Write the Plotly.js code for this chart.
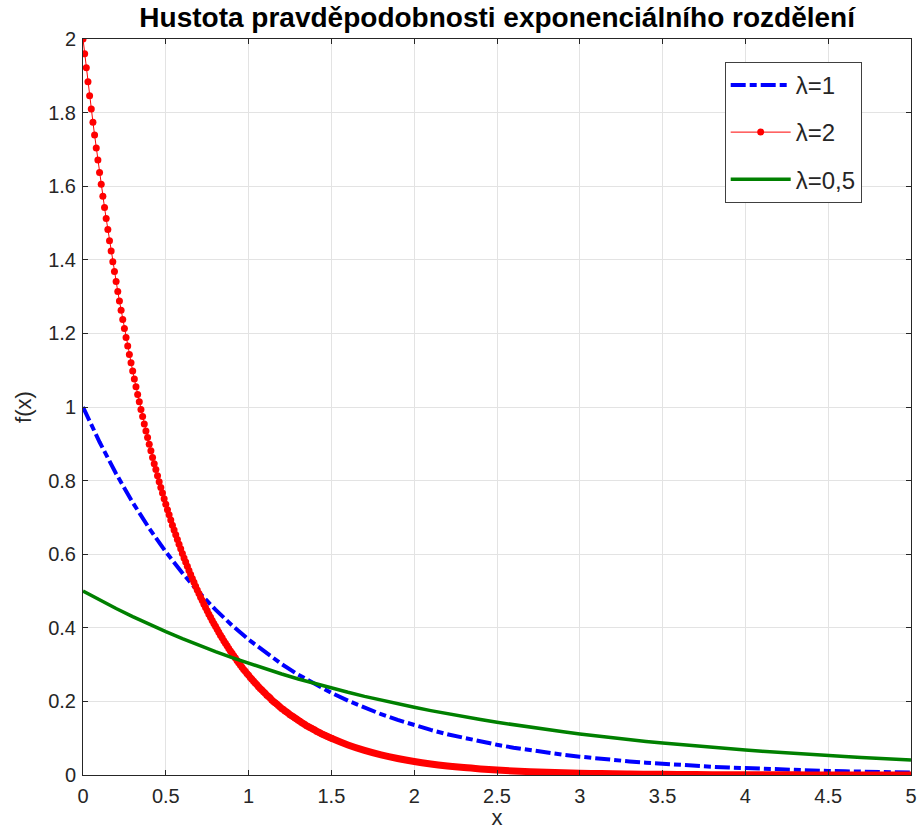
<!DOCTYPE html>
<html>
<head>
<meta charset="utf-8">
<script src="https://cdn.plot.ly/plotly-3.0.1.min.js"></script>
<style>html,body{margin:0;padding:0;background:#fff;}#chart{width:919px;height:830px;}</style>
</head>
<body>
<div id="chart"></div>
<script>
// lambda = 2, dense sampled part (markers)
const xRed = [0,0.01,0.02,0.03,0.04,0.05,0.06,0.07,0.08,0.09,0.1,0.11,0.12,0.13,0.14,0.15,0.16,0.17,0.18,0.19,0.2,0.21,0.22,0.23,0.24,0.25,0.26,0.27,0.28,0.29,0.3,0.31,0.32,0.33,0.34,0.35,0.36,0.37,0.38,0.39,0.4,0.41,0.42,0.43,0.44,0.45,0.46,0.47,0.48,0.49,0.5,0.51,0.52,0.53,0.54,0.55,0.56,0.57,0.58,0.59,0.6,0.61,0.62,0.63,0.64,0.65,0.66,0.67,0.68,0.69,0.7,0.71,0.72,0.73,0.74,0.75,0.76,0.77,0.78,0.79,0.8,0.81,0.82,0.83,0.84,0.85,0.86,0.87,0.88,0.89,0.9,0.91,0.92,0.93,0.94,0.95,0.96,0.97,0.98,0.99,1,1.01,1.02,1.03,1.04,1.05,1.06,1.07,1.08,1.09,1.1,1.11,1.12,1.13,1.14,1.15,1.16,1.17,1.18,1.19,1.2,1.21,1.22,1.23,1.24,1.25,1.26,1.27,1.28,1.29,1.3,1.31,1.32,1.33,1.34,1.35,1.36,1.37,1.38,1.39,1.4,1.41,1.42,1.43,1.44,1.45,1.46,1.47,1.48,1.49,1.5];
const yRed = [2.000,1.960,1.922,1.884,1.846,1.810,1.774,1.739,1.704,1.671,1.637,1.605,1.573,1.542,1.512,1.482,1.452,1.424,1.395,1.368,1.341,1.314,1.288,1.263,1.238,1.213,1.189,1.166,1.143,1.120,1.098,1.076,1.055,1.034,1.014,0.993,0.974,0.954,0.935,0.917,0.899,0.881,0.863,0.846,0.830,0.813,0.797,0.781,0.766,0.751,0.736,0.721,0.707,0.693,0.679,0.666,0.653,0.640,0.627,0.615,0.602,0.590,0.579,0.567,0.556,0.545,0.534,0.524,0.513,0.503,0.493,0.483,0.474,0.464,0.455,0.446,0.437,0.429,0.420,0.412,0.404,0.396,0.388,0.380,0.373,0.365,0.358,0.351,0.344,0.337,0.331,0.324,0.318,0.311,0.305,0.299,0.293,0.287,0.282,0.276,0.271,0.265,0.260,0.255,0.250,0.245,0.240,0.235,0.231,0.226,0.222,0.217,0.213,0.209,0.204,0.200,0.196,0.193,0.189,0.185,0.181,0.178,0.174,0.171,0.168,0.164,0.161,0.158,0.155,0.152,0.149,0.146,0.143,0.140,0.137,0.134,0.132,0.129,0.127,0.124,0.122,0.119,0.117,0.115,0.112,0.110,0.108,0.106,0.104,0.102,0.100];
// lambda = 2, tail (markers merge into a solid band)
const xRedTail = [1.5,1.6,1.7,1.8,1.9,2,2.1,2.2,2.3,2.4,2.5,2.6,2.7,2.8,2.9,3,3.1,3.2,3.3,3.4,3.5,3.6,3.7,3.8,3.9,4,4.1,4.2,4.3,4.4,4.5,4.6,4.7,4.8,4.9,5];
const yRedTail = [0.0996,0.0815,0.0667,0.0546,0.0447,0.0366,0.0300,0.0246,0.0201,0.0165,0.0135,0.0110,0.0090,0.0074,0.0061,0.0050,0.0041,0.0033,0.0027,0.0022,0.0018,0.0015,0.0012,0.0010,0.0008,0.0007,0.0005,0.0004,0.0004,0.0003,0.0002,0.0002,0.0002,0.0001,0.0001,0.0001];
// lambda = 1 and lambda = 0.5
const xCoarse = [0,0.1,0.2,0.3,0.4,0.5,0.6,0.7,0.8,0.9,1,1.1,1.2,1.3,1.4,1.5,1.6,1.7,1.8,1.9,2,2.1,2.2,2.3,2.4,2.5,2.6,2.7,2.8,2.9,3,3.1,3.2,3.3,3.4,3.5,3.6,3.7,3.8,3.9,4,4.1,4.2,4.3,4.4,4.5,4.6,4.7,4.8,4.9,5];
const yBlue = [1,0.9048,0.8187,0.7408,0.6703,0.6065,0.5488,0.4966,0.4493,0.4066,0.3679,0.3329,0.3012,0.2725,0.2466,0.2231,0.2019,0.1827,0.1653,0.1496,0.1353,0.1225,0.1108,0.1003,0.0907,0.0821,0.0743,0.0672,0.0608,0.0550,0.0498,0.0450,0.0408,0.0369,0.0334,0.0302,0.0273,0.0247,0.0224,0.0202,0.0183,0.0166,0.0150,0.0136,0.0123,0.0111,0.0101,0.0091,0.0082,0.0074,0.0067];
const yGreen = [0.5,0.4756,0.4524,0.4304,0.4094,0.3894,0.3704,0.3523,0.3352,0.3188,0.3033,0.2885,0.2744,0.2610,0.2483,0.2362,0.2247,0.2137,0.2033,0.1934,0.1839,0.1750,0.1664,0.1583,0.1506,0.1433,0.1363,0.1296,0.1233,0.1173,0.1116,0.1061,0.1009,0.0960,0.0913,0.0869,0.0826,0.0786,0.0748,0.0711,0.0677,0.0644,0.0612,0.0582,0.0554,0.0527,0.0501,0.0477,0.0454,0.0431,0.0410];
const seriesNames = ['λ=1','λ=2','λ=0,5'];
const xTicks = [0,0.5,1,1.5,2,2.5,3,3.5,4,4.5,5];
const xTickLabels = ['0','0.5','1','1.5','2','2.5','3','3.5','4','4.5','5'];
const yTicks = [0,0.2,0.4,0.6,0.8,1,1.2,1.4,1.6,1.8,2];
const yTickLabels = ['0','0.2','0.4','0.6','0.8','1','1.2','1.4','1.6','1.8','2'];

const FONT = 'Liberation Sans, Arial, Helvetica, sans-serif';
const traces = [
  {x: xCoarse, y: yBlue, name: seriesNames[0], legendgroup: 'a', type: 'scatter', mode: 'lines',
   line: {color: '#0000ff', width: 4, dash: '15px,4px,7px,4px'}},
  {x: xRed, y: yRed, name: seriesNames[1], legendgroup: 'b', type: 'scatter', mode: 'lines+markers',
   line: {color: '#ff0000', width: 1}, marker: {color: '#ff0000', size: 7}},
  {x: xRedTail, y: yRedTail, name: seriesNames[1], legendgroup: 'b', showlegend: false, type: 'scatter', mode: 'lines',
   line: {color: '#ff0000', width: 7, shape: 'spline'}},
  {x: xCoarse, y: yGreen, name: seriesNames[2], legendgroup: 'c', type: 'scatter', mode: 'lines',
   line: {color: '#008000', width: 3.5}}
];

const axisCommon = {
  showline: true, linecolor: '#262626', linewidth: 1, mirror: 'ticks',
  ticks: 'inside', ticklen: 5, tickcolor: '#262626',
  showgrid: true, gridcolor: '#e3e3e3', gridwidth: 1, zeroline: false,
  tickfont: {family: FONT, size: 20, color: '#262626'}
};

const layout = {
  width: 919, height: 830,
  paper_bgcolor: '#ffffff', plot_bgcolor: '#ffffff',
  margin: {l: 83, r: 8, t: 39, b: 55},
  title: {text: '<b>Hustota pravděpodobnosti exponenciálního rozdělení</b>',
    font: {family: FONT, size: 28, color: '#000000'},
    x: 0.541, xanchor: 'center', y: 0.979, yanchor: 'middle'},
  xaxis: Object.assign({}, axisCommon, {range: [0, 5], tickvals: xTicks, ticktext: xTickLabels,
    ticklabelstandoff: 3,
    title: {text: 'x', font: {family: FONT, size: 22, color: '#262626'}, standoff: 6}}),
  yaxis: Object.assign({}, axisCommon, {range: [0, 2], tickvals: yTicks, ticktext: yTickLabels,
    ticklabelstandoff: 2,
    title: {text: 'f(x)', font: {family: FONT, size: 22, color: '#262626'}, standoff: 10}}),
  showlegend: true,
  legend: {x: 0.775, y: 0.969, xanchor: 'left', yanchor: 'top',
    bgcolor: '#ffffff', bordercolor: '#404040', borderwidth: 1,
    font: {family: FONT, size: 24, color: '#262626'},
    tracegroupgap: 13, itemwidth: 60}
};

Plotly.newPlot('chart', traces, layout, {displayModeBar: false, staticPlot: true});
</script>
</body>
</html>
